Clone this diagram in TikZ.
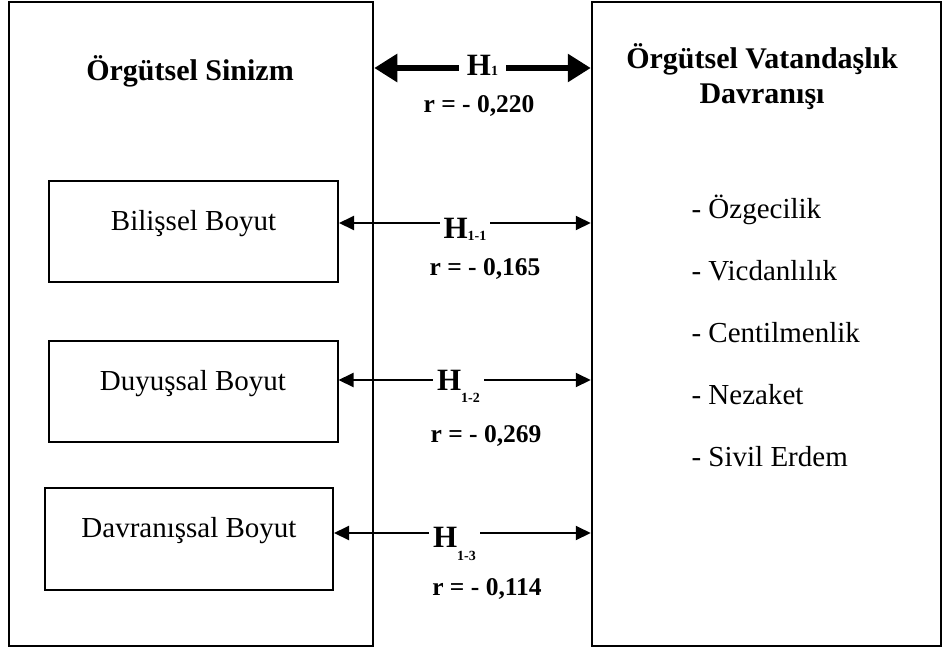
\documentclass[tikz,border=0pt]{standalone}
\usepackage{fontspec}
\setmainfont{Liberation Serif}
\usetikzlibrary{arrows.meta}
\newcommand{\hyplbl}[2]{H\raisebox{#2}{\fontsize{14}{14}\selectfont #1}}

\begin{document}
\begin{tikzpicture}[x=1pt, y=-1pt,
    outerbox/.style={draw, line width=2.5pt, inner sep=0pt},
    dimbox/.style={draw, line width=2pt, minimum width=289pt, minimum height=101pt, font=\fontsize{29}{34}\selectfont, text height=20pt, text depth=23pt},
    head/.style={anchor=base, align=center, font=\bfseries\fontsize{30}{35}\selectfont},
    thinarrow/.style={{Triangle[length=15pt,width=14pt]}-{Triangle[length=15pt,width=14pt]}, line width=2pt},
    thickarrow/.style={{Triangle[length=23pt,width=27pt]}-{Triangle[length=23pt,width=27pt]}, line width=6.5pt},
    hyp/.style={fill=white, inner xsep=4pt, inner ysep=1pt, anchor=base, font=\bfseries\fontsize{31}{36}\selectfont},
    corr/.style={anchor=base, font=\bfseries\fontsize{25.5}{30}\selectfont}]
      \useasboundingbox (0,0) rectangle (944,651);
      % the two constructs
      \node[outerbox, minimum width=364pt, minimum height=644pt] (os) at (191,324) {};
      \node[outerbox, minimum width=349pt, minimum height=644pt] (ovd) at (766.5,324) {};
      \node[head] (osh) at (190,80) {Örgütsel Sinizm};
      \node[head] (ovdh) at (762,103) {Örgütsel Vatandaşlık\\Davranışı};
      % dimensions of cynicism
      \node[dimbox] (bil) at (193.5,231.5) {Bilişsel Boyut};
      \node[dimbox] (duy) at (193,391.5) {Duyuşsal Boyut};
      \node[dimbox, minimum width=288pt, minimum height=102pt] (dav) at (189,539) {Davranışsal Boyut};
      % dimensions of citizenship behaviour
      \foreach \dim [count=\i from 0] in {Özgecilik, Vicdanlılık, Centilmenlik, Nezaket, Sivil Erdem}
        \node[anchor=base west, font=\fontsize{29}{34}\selectfont] (ovd\i) at (688,{218+62.2*\i}) {- \dim};
      % hypotheses
      \coordinate (h1) at (482,68);
      \coordinate (a1) at ([yshift=8.5pt]bil.east);
      \coordinate (a2) at ([yshift=11.5pt]duy.east);
      \coordinate (a3) at ([yshift=6pt]dav.east);
      \draw[thickarrow] (h1 -| os.east) -- (h1 -| ovd.west);
      \draw[thinarrow] (a1) -- (a1 -| ovd.west);
      \draw[thinarrow] (a2) -- (a2 -| ovd.west);
      \draw[thinarrow] (a3) -- (a3 -| ovd.west);
      \node[hyp, inner xsep=8pt] (h1l) at (482.5,75) {\hyplbl{1}{0pt}};
      \node[hyp] (h11l) at (465,238) {\hyplbl{1-1}{-2pt}};
      \node[hyp] (h12l) at (458.5,390) {\hyplbl{1-2}{-12pt}};
      \node[hyp] (h13l) at (454.5,547) {\hyplbl{1-3}{-13pt}};
      \node[corr] (r1) at (479,112) {r = - 0,220};
      \node[corr] (r11) at (485,275) {r = - 0,165};
      \node[corr] (r12) at (486,442) {r = - 0,269};
      \node[corr] (r13) at (487,595) {r = - 0,114};
    \end{tikzpicture}
\end{document}
